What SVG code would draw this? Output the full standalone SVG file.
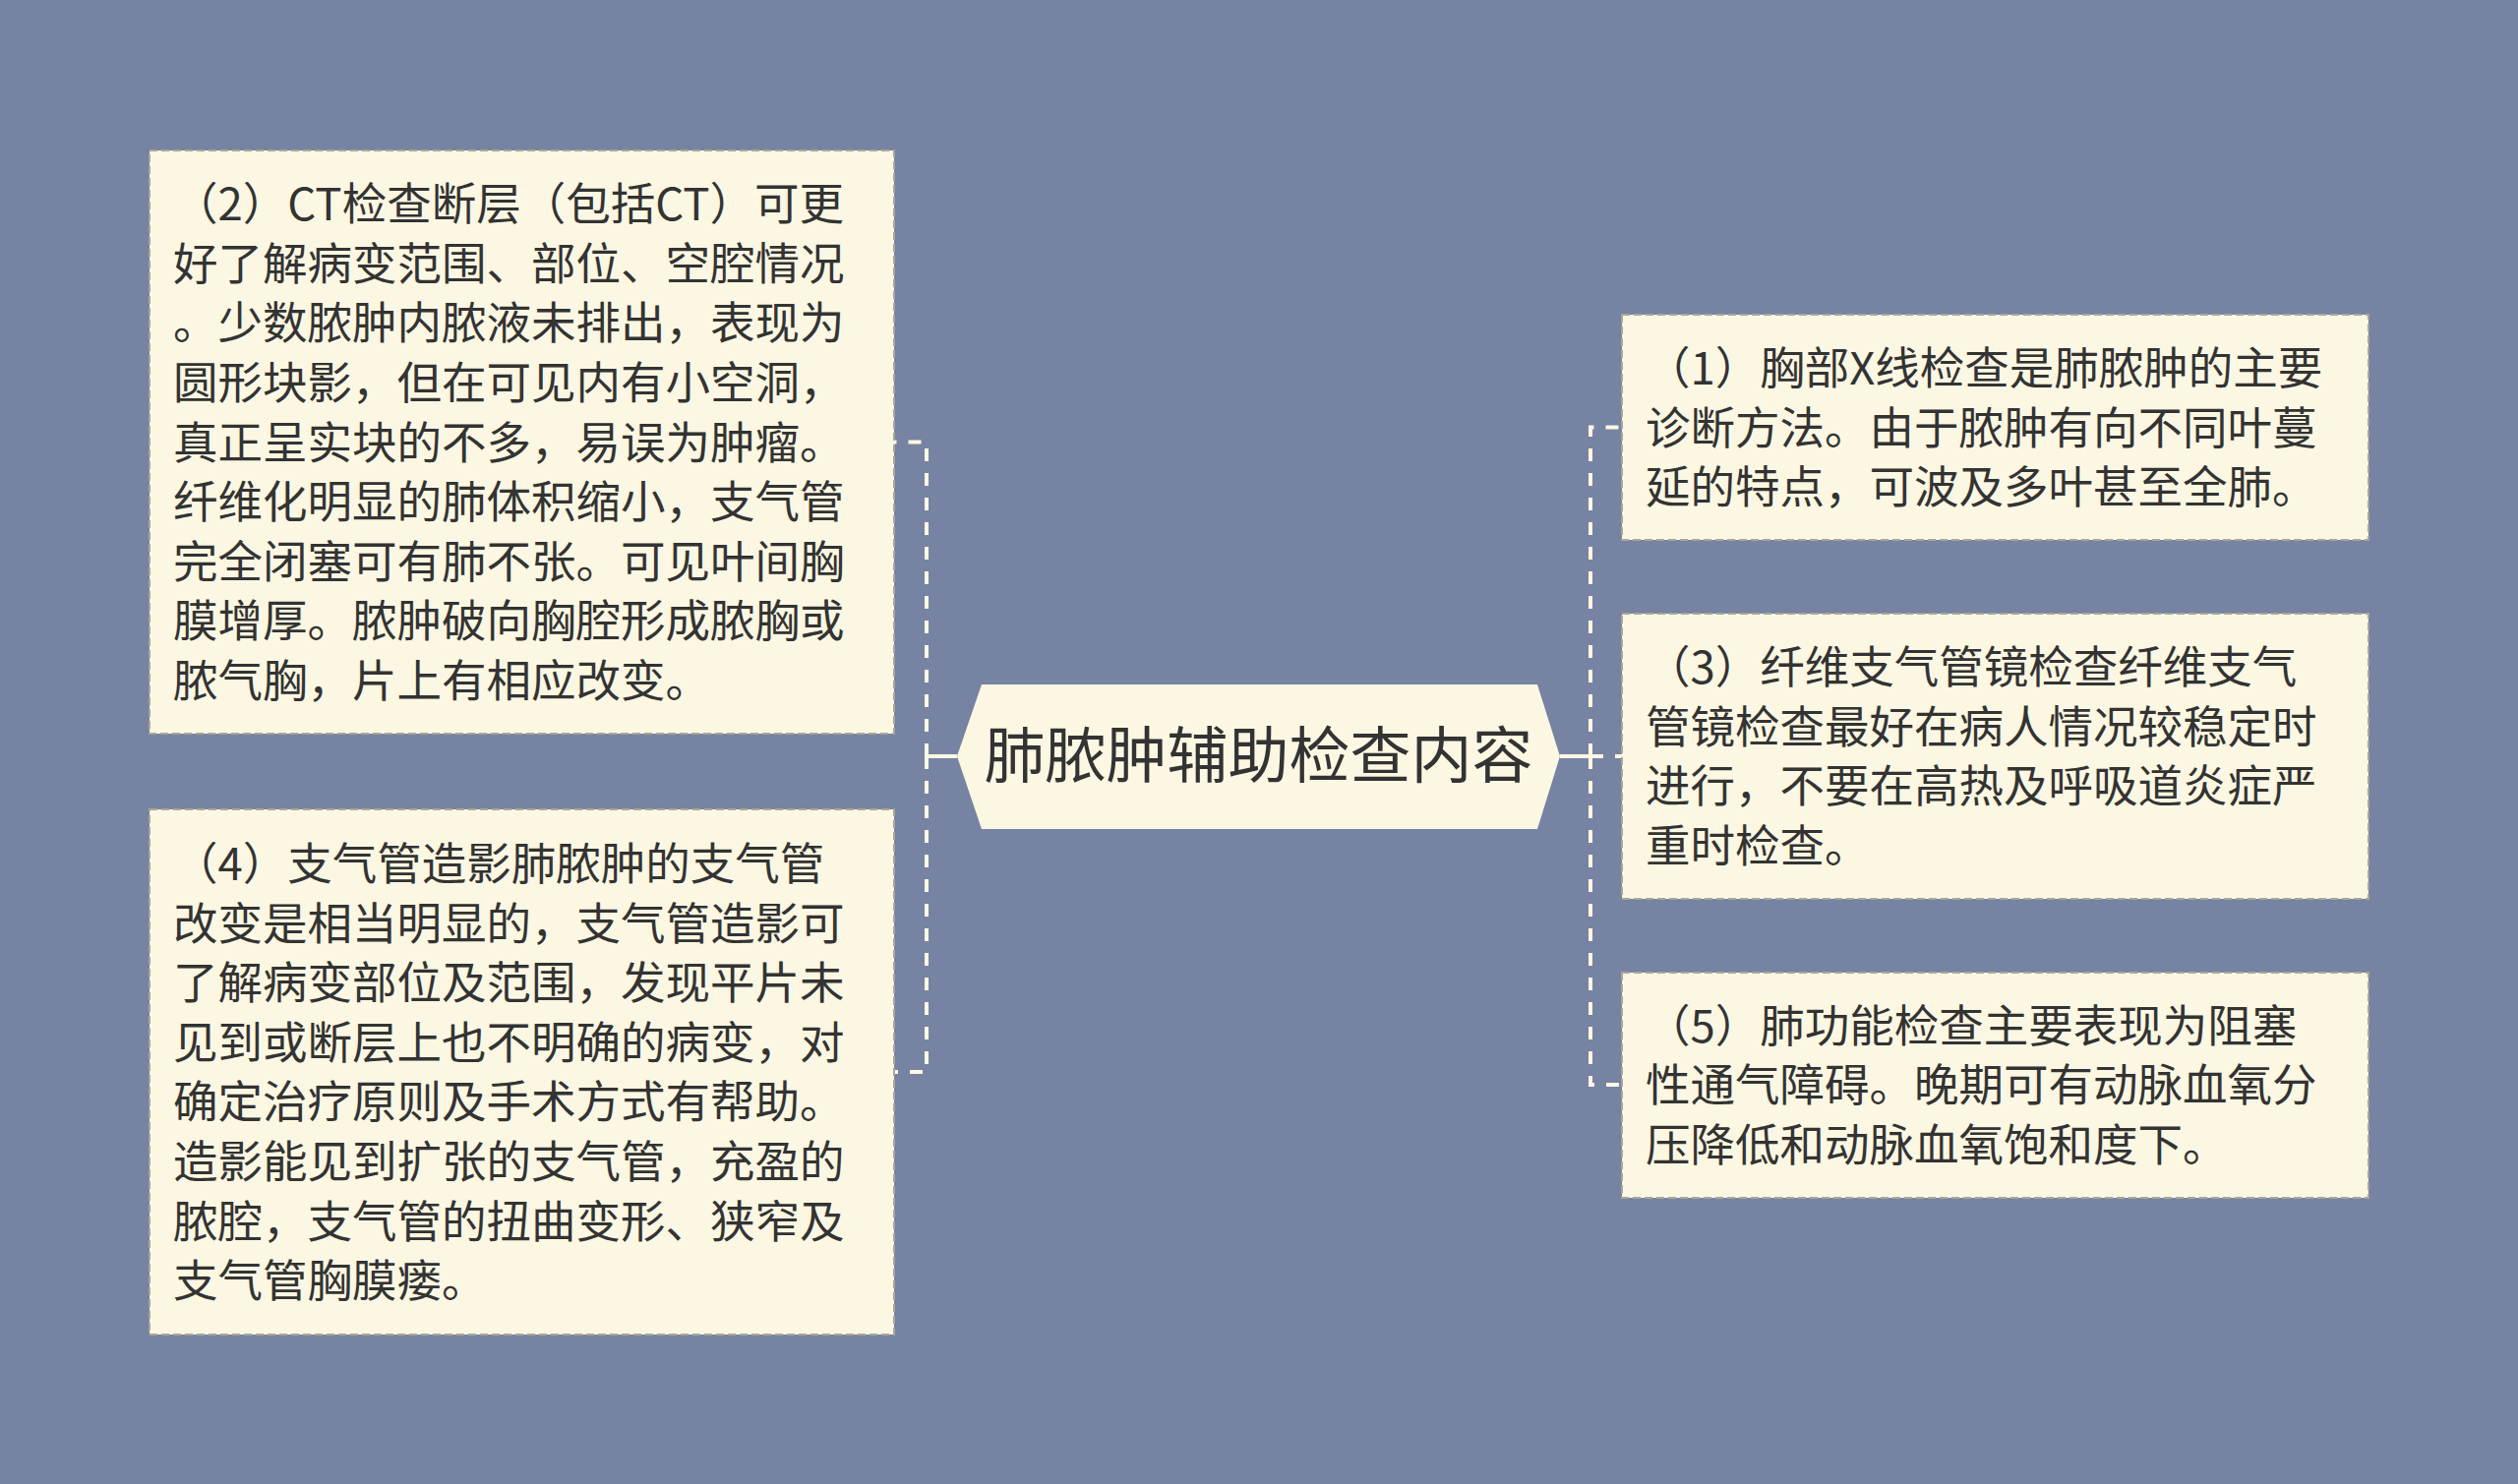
<svg xmlns="http://www.w3.org/2000/svg" width="2560" height="1509" viewBox="0 0 2560 1509">
<style>
.bg{fill:#7783A3}
.box{fill:#FBF7E2;stroke:#A8A797;stroke-width:2;stroke-dasharray:8 4}
.hex{fill:#FBF7E2}
.t{font-family:"Noto Sans CJK SC","Noto Sans",sans-serif;font-size:45.5px;fill:#333333}
.ct{font-family:"Noto Sans CJK SC","Noto Sans",sans-serif;font-size:62px;fill:#333333;text-anchor:middle}
.dash{fill:none;stroke:#FBF7E2;stroke-width:4;stroke-dasharray:13 12}
.solid{fill:none;stroke:#FBF7E2;stroke-width:4}
</style>
<rect class="bg" x="0" y="0" width="2560" height="1509"/>
<g id="connectors">
<path class="solid" d="M973,769 H942"/>
<path class="dash" d="M942,769 V449.5 H909"/>
<path class="dash" d="M942,769 V1090 H909"/>
<path class="solid" d="M1586,769 H1617"/>
<path class="dash" d="M1617,769 V434.5 H1649"/>
<path class="dash" d="M1617,769 H1649"/>
<path class="dash" d="M1617,769 V1103 H1649"/>
</g>
<g id="center">
<polygon class="hex" points="973,769 998,696 1563,696 1586,769 1563,843 998,843"/>
<text class="ct" x="1279.5" y="791">肺脓肿辅助检查内容</text>
</g>
<g id="node2">
<rect class="box" x="152" y="153" width="757" height="593"/>
<text class="t">
<tspan x="176" y="224">（2）CT检查断层（包括CT）可更</tspan>
<tspan x="176" y="285">好了解病变范围、部位、空腔情况</tspan>
<tspan x="176" y="345">。少数脓肿内脓液未排出，表现为</tspan>
<tspan x="176" y="406">圆形块影，但在可见内有小空洞，</tspan>
<tspan x="176" y="466.5">真正呈实块的不多，易误为肿瘤。</tspan>
<tspan x="176" y="527">纤维化明显的肺体积缩小，支气管</tspan>
<tspan x="176" y="588">完全闭塞可有肺不张。可见叶间胸</tspan>
<tspan x="176" y="648">膜增厚。脓肿破向胸腔形成脓胸或</tspan>
<tspan x="176" y="709">脓气胸，片上有相应改变。</tspan>
</text>
</g>
<g id="node4">
<rect class="box" x="152" y="823" width="757" height="534"/>
<text class="t">
<tspan x="176" y="895">（4）支气管造影肺脓肿的支气管</tspan>
<tspan x="176" y="955.5">改变是相当明显的，支气管造影可</tspan>
<tspan x="176" y="1016">了解病变部位及范围，发现平片未</tspan>
<tspan x="176" y="1077">见到或断层上也不明确的病变，对</tspan>
<tspan x="176" y="1137">确定治疗原则及手术方式有帮助。</tspan>
<tspan x="176" y="1198">造影能见到扩张的支气管，充盈的</tspan>
<tspan x="176" y="1259">脓腔，支气管的扭曲变形、狭窄及</tspan>
<tspan x="176" y="1319">支气管胸膜瘘。</tspan>
</text>
</g>
<g id="node1">
<rect class="box" x="1649" y="320" width="759" height="229"/>
<text class="t">
<tspan x="1673" y="391">（1）胸部X线检查是肺脓肿的主要</tspan>
<tspan x="1673" y="451.5">诊断方法。由于脓肿有向不同叶蔓</tspan>
<tspan x="1673" y="512">延的特点，可波及多叶甚至全肺。</tspan>
</text>
</g>
<g id="node3">
<rect class="box" x="1649" y="624" width="759" height="290"/>
<text class="t">
<tspan x="1673" y="695">（3）纤维支气管镜检查纤维支气</tspan>
<tspan x="1673" y="755.5">管镜检查最好在病人情况较稳定时</tspan>
<tspan x="1673" y="816">进行，不要在高热及呼吸道炎症严</tspan>
<tspan x="1673" y="877">重时检查。</tspan>
</text>
</g>
<g id="node5">
<rect class="box" x="1649" y="989" width="759" height="229"/>
<text class="t">
<tspan x="1673" y="1059.5">（5）肺功能检查主要表现为阻塞</tspan>
<tspan x="1673" y="1120">性通气障碍。晚期可有动脉血氧分</tspan>
<tspan x="1673" y="1181">压降低和动脉血氧饱和度下。</tspan>
</text>
</g>
</svg>
